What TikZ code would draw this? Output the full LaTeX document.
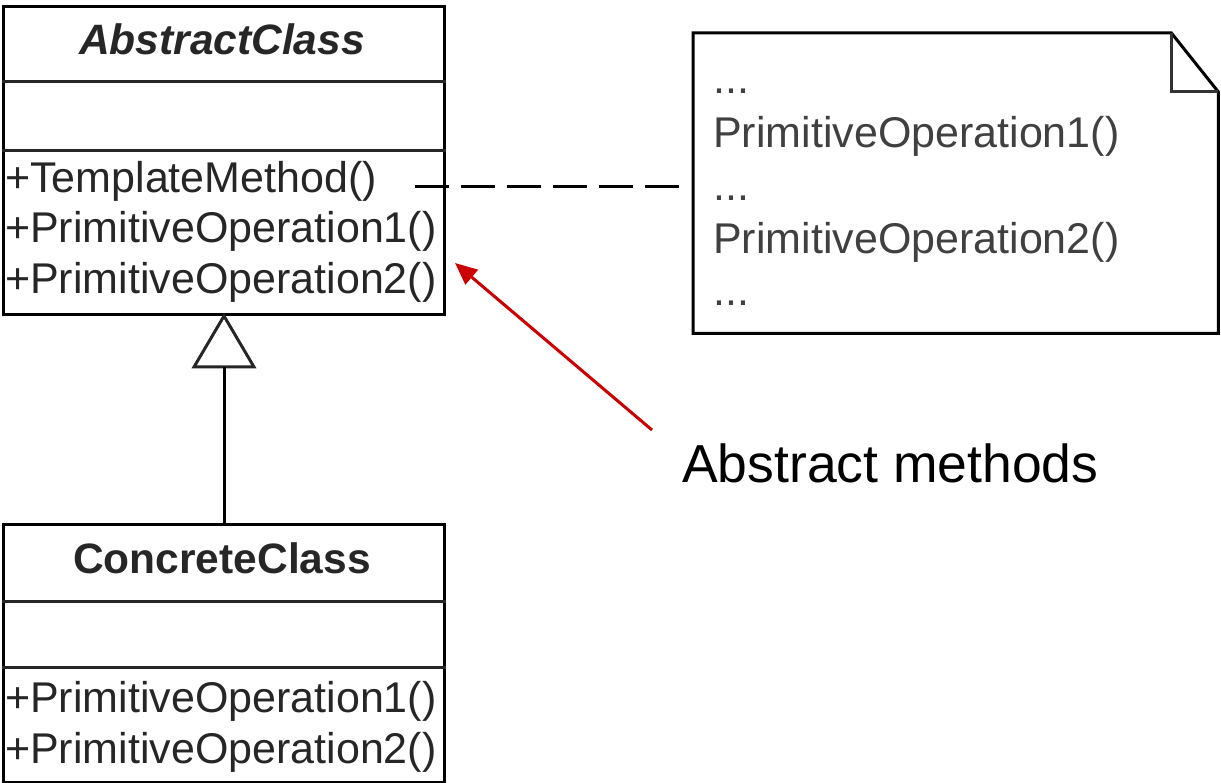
\documentclass[tikz,border=0pt]{standalone}
\usepackage{fontspec}
\setmainfont{Liberation Sans}
\usetikzlibrary{arrows.meta,calc}
\definecolor{arrowred}{RGB}{204,0,0}
\tikzset{
  umlbox/.style={draw=black, line width=3pt, inner sep=0pt, minimum width=441pt, anchor=north west},
  sepline/.style={line width=3pt, draw=black!85},
  memb/.style={inner sep=0pt, anchor=base west, font=\fontsize{43}{50}\selectfont, text=black!85},
  ctitle/.style={inner sep=0pt, anchor=base, font=\fontsize{42.5}{50}\selectfont\bfseries, text=black!85},
  notetxt/.style={inner sep=0pt, anchor=base west, font=\fontsize{43}{50}\selectfont, text=black!75},
  notebox/.style={inner sep=0pt, minimum width=525pt, minimum height=300pt, anchor=north west},
  dashconn/.style={line width=3pt, dash pattern=on 34pt off 12pt},
  redarrow/.style={draw=arrowred, line width=3pt, -{Triangle[length=22pt,width=19pt]}},
  label/.style={inner sep=0pt, anchor=base west, font=\fontsize{53.5}{60}\selectfont}
}
\begin{document}
\begin{tikzpicture}[x=1pt,y=-1pt]
\useasboundingbox (0,0) rectangle (1221,783);
% AbstractClass
\node[umlbox, minimum height=308pt] (abs) at (2,5) {};
\draw[sepline] (abs.west |- 0,82) -- (abs.east |- 0,82);
\draw[sepline] (abs.west |- 0,151) -- (abs.east |- 0,151);
\node[ctitle, font=\fontsize{42.5}{50}\selectfont\bfseries\itshape] (absname) at (222,55) {AbstractClass};
\node[memb] (tm) at (5,193) {+TemplateMethod()};
\node[memb] (apo1) at (5,243) {+PrimitiveOperation1()};
\node[memb] (apo2) at (5,294) {+PrimitiveOperation2()};
% ConcreteClass
\node[umlbox, minimum height=258pt] (conc) at (2,523) {};
\draw[sepline] (conc.west |- 0,601) -- (conc.east |- 0,601);
\draw[sepline] (conc.west |- 0,667) -- (conc.east |- 0,667);
\node[ctitle] (concname) at (222,573) {ConcreteClass};
\node[memb] (cpo1) at (5,712) {+PrimitiveOperation1()};
\node[memb] (cpo2) at (5,763) {+PrimitiveOperation2()};
% generalization
\coordinate (tribase) at ($(abs.south)+(0,51)$);
\draw[line width=3pt, draw=black!85, line join=miter] (abs.south) -- ($(abs.south)+(-30,51)$) -- ($(abs.south)+(30,51)$) -- cycle;
\draw[line width=3pt] (conc.north) -- (tribase);
% note
\node[notebox] (note) at (693,33) {};
\draw[line width=3pt, line join=miter] (note.north west) -- ($(note.north east)+(-47,0)$) -- ($(note.north east)+(0,59)$) -- (note.south east) -- (note.south west) -- cycle;
\draw[line width=3pt, draw=black!80] ($(note.north east)+(-47,0)$) -- ($(note.north east)+(-47,59)$) -- ($(note.north east)+(0,59)$);
\node[notetxt] (d1) at (713,94) {...};
\node[notetxt] (npo1) at (713,148) {PrimitiveOperation1()};
\node[notetxt] (d2) at (713,201) {...};
\node[notetxt] (npo2) at (713,254) {PrimitiveOperation2()};
\node[notetxt] (d3) at (713,306) {...};
% dashed connector
\coordinate (dstart) at (415,187);
\coordinate (dend) at ($(dstart -| note.west)+(-13,0)$);
\draw[dashconn] (dstart) -- (dend);
% red arrow and label
\node[label] (lab) at (682,482) {Abstract methods};
\coordinate (atail) at (652,430);
\coordinate (ahead) at (455,263);
\draw[redarrow] (atail) -- (ahead);
\end{tikzpicture}
\end{document}
